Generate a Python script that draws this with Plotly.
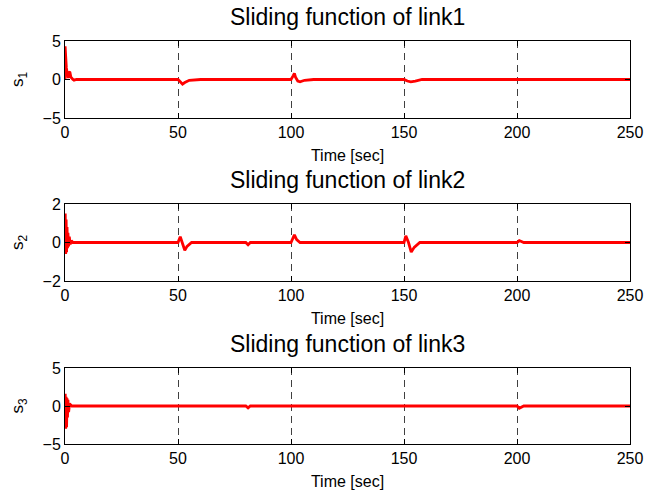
import plotly.graph_objects as go

# ---- data ----
t1 = [0, 0.05, 0.3, 0.6, 1.0, 1.4, 1.8, 2.2, 2.6, 3.0, 3.5, 4.0, 5.0, 8.0, 10.0,
      50.0, 51.0, 52.0, 53.0, 55.0, 60.0, 80.0, 100.0, 101.0, 101.5, 102.0, 103.0,
      104.0, 106.0, 110.0, 150.0, 151.5, 153.0, 155.0, 158.0, 200.0, 250.0]
s1 = [0.0, 4.3, 3.0, 1.5, 0.4, 0.2, 1.0, 0.9, 0.3, 0.1, 0.0, -0.1, 0.0, 0.0, 0.0,
      0.0, -0.3, -0.6, -0.4, -0.1, 0.0, 0.0, 0.0, 0.5, 0.8, 0.3, -0.2,
      -0.3, -0.1, 0.0, 0.0, -0.2, -0.3, -0.2, 0.0, 0.0, 0.0]

t2 = [0, 0.1, 0.3, 0.5, 0.7, 0.9, 1.1, 1.3, 1.6, 1.9, 2.3, 2.8, 3.5, 5.0,
      50.0, 51.0, 52.0, 53.0, 54.0, 56.0, 80.0, 81.0, 82.0, 100.0, 101.5, 102.5,
      104.0, 106.0, 150.0, 150.8, 152.0, 153.2, 154.5, 157.0, 200.0, 201.0, 203.0, 250.0]
s2 = [0.0, 1.5, -0.6, 1.2, -0.5, 0.8, -0.3, 0.5, -0.2, 0.3, -0.1, 0.1, 0.0, 0.0,
      0.0, 0.3, 0.0, -0.4, -0.2, 0.0, 0.0, -0.12, 0.0, 0.0, 0.4, 0.15,
      0.0, 0.0, 0.0, 0.35, 0.0, -0.5, -0.25, 0.0, 0.0, 0.1, 0.0, 0.0]

t3 = [0, 0.1, 0.3, 0.5, 0.7, 0.9, 1.1, 1.3, 1.6, 2.0, 3.0,
      80.0, 81.0, 82.0, 200.0, 201.0, 203.0, 250.0]
s3 = [0.0, 1.6, -3.0, 1.2, -2.8, 1.0, -1.5, 0.8, -0.8, 0.3, 0.0,
      0.0, -0.25, 0.0, 0.0, -0.3, 0.0, 0.0]

titles = ["Sliding function of link1", "Sliding function of link2", "Sliding function of link3"]
ylabels = ["s<sub>1</sub>", "s<sub>2</sub>", "s<sub>3</sub>"]
yranges = [[-5, 5], [-2, 2], [-5, 5]]
yticks = [[-5, 0, 5], [-2, 0, 2], [-5, 0, 5]]
xticks = [0, 50, 100, 150, 200, 250]
xlabel = "Time [sec]"

series = [(t1, s1), (t2, s2), (t3, s3)]

W, H = 645, 492
ML, MR, MT, MB = 65, 15, 41, 48
plot_h = H - MT - MB
panels = [(41, 118), (204, 281), (368, 444)]  # pixel top/bottom of each panel

def py(p):
    return (H - MB - p) / plot_h

FAM = "Liberation Sans, Arial, sans-serif"
fig = go.Figure()
layout = dict(width=W, height=H, margin=dict(l=ML, r=MR, t=MT, b=MB, autoexpand=False),
              plot_bgcolor="white", paper_bgcolor="white", showlegend=False,
              font=dict(family=FAM, size=16, color="black"))
annotations = []
for i, ((tx, sy), (top, bot)) in enumerate(zip(series, panels)):
    xa = "x" if i == 0 else f"x{i+1}"
    ya = "y" if i == 0 else f"y{i+1}"
    fig.add_trace(go.Scatter(x=tx, y=sy, mode="lines", xaxis=xa, yaxis=ya,
                             line=dict(color="#FF0000", width=2.8)))
    xkey = "xaxis" if i == 0 else f"xaxis{i+1}"
    ykey = "yaxis" if i == 0 else f"yaxis{i+1}"
    layout[xkey] = dict(domain=[0, 1], anchor=ya, range=[0, 250], tickvals=xticks,
                        ticks="inside", ticklen=5, tickcolor="black",
                        showline=True, linecolor="black", linewidth=1, mirror="ticks",
                        showgrid=True, gridcolor="#404040", griddash="7px,5px", gridwidth=1,
                        zeroline=False, automargin=False,
                        tickfont=dict(family=FAM, size=16, color="black"),
                        title=dict(text=xlabel, font=dict(family=FAM, size=16, color="black"),
                                   standoff=9))
    layout[ykey] = dict(domain=[py(bot), py(top)], anchor=xa, range=yranges[i],
                        tickvals=yticks[i], ticks="inside", ticklen=5, tickcolor="black",
                        showline=True, linecolor="black", linewidth=1, mirror="ticks",
                        showgrid=False, zeroline=False, automargin=False,
                        tickfont=dict(family=FAM, size=16, color="black"),
                        title=dict(text=ylabels[i], font=dict(family=FAM, size=17, color="black"),
                                   standoff=14))
    annotations.append(dict(text=titles[i], xref="paper", yref="paper",
                            x=0.5, y=py(top), yshift=9, xanchor="center", yanchor="bottom",
                            showarrow=False, font=dict(family=FAM, size=23, color="black")))
layout["annotations"] = annotations
fig.update_layout(**layout)
fig.write_html("out.html", config={"displayModeBar": False},
               post_script="document.body.style.margin='0';"
                           "document.documentElement.style.overflow='hidden';")
